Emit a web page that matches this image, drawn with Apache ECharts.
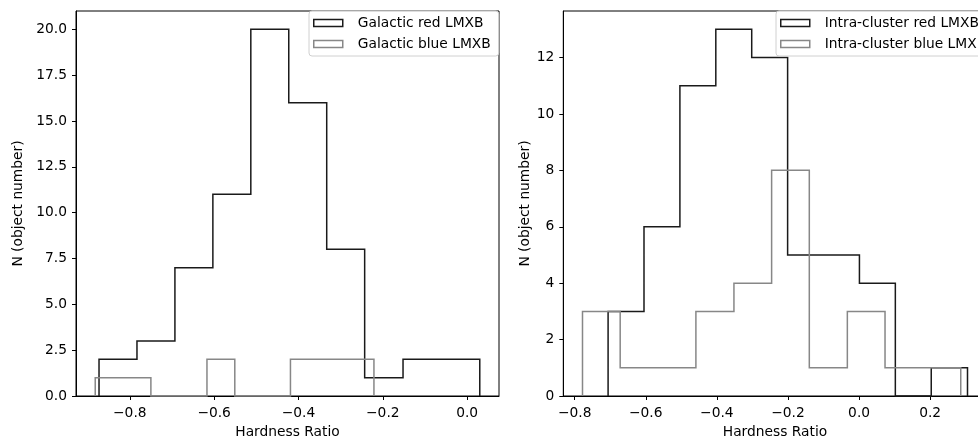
<!DOCTYPE html>
<html>
<head>
<meta charset="utf-8">
<script src="https://cdn.jsdelivr.net/npm/echarts@6/dist/echarts.min.js"></script>
<style>
  html, body { margin: 0; padding: 0; overflow: hidden; background: #fff; }
  #main { width: 978px; height: 438px; }
</style>
</head>
<body>
<div id="main"></div>
<script>
// bin edges and counts
const galRedEdges = [-0.873, -0.783, -0.693, -0.603, -0.513, -0.423, -0.333, -0.243, -0.152, -0.061, 0.030];
const galRedCounts = [2, 3, 7, 11, 20, 16, 8, 1, 2, 2];
const galBlueEdges = [-0.882, -0.816, -0.750, -0.684, -0.617, -0.551, -0.485, -0.419, -0.353, -0.287, -0.221];
const galBlueCounts = [1, 1, 0, 0, 2, 0, 0, 2, 2, 2];

const icRedEdges = [-0.706, -0.605, -0.504, -0.403, -0.302, -0.201, -0.100, 0.001, 0.102, 0.203, 0.305];
const icRedCounts = [3, 6, 11, 13, 12, 5, 5, 4, 0, 1];
const icBlueEdges = [-0.778, -0.672, -0.565, -0.459, -0.352, -0.246, -0.140, -0.033, 0.073, 0.180, 0.286];
const icBlueCounts = [3, 1, 1, 3, 4, 8, 1, 3, 1, 1];

// tick labels
const leftXTicks = [-0.8, -0.6, -0.4, -0.2, 0.0];
const leftYTicks = [0, 2.5, 5, 7.5, 10, 12.5, 15, 17.5, 20];
const rightXTicks = [-0.8, -0.6, -0.4, -0.2, 0.0, 0.2];
const rightYTicks = [0, 2, 4, 6, 8, 10, 12];

const FONT = 'DejaVu Sans';
const FS = 13.8;
const RED = '#1a1a1a';
const BLUE = '#878787';

// outline of a step histogram
function stepPoints(edges, counts) {
  const pts = [[edges[0], 0]];
  for (let i = 0; i < counts.length; i++) {
    pts.push([edges[i], counts[i]]);
    pts.push([edges[i + 1], counts[i]]);
  }
  pts.push([edges[edges.length - 1], 0]);
  return pts;
}

function fmtX(v) {
  return (v < 0 ? '\u2212' : '') + Math.abs(v).toFixed(1);
}

function xAxisOf(idx, min, max, ticks) {
  return {
    type: 'value', gridIndex: idx, min: min, max: max,
    name: 'Hardness Ratio', nameLocation: 'middle', nameGap: 29,
    nameTextStyle: { fontFamily: FONT, fontSize: FS, color: '#000' },
    axisLine: { show: true, onZero: false, lineStyle: { color: '#000', width: 1 } },
    axisTick: { show: true, length: 4, customValues: ticks, lineStyle: { color: '#000' } },
    axisLabel: { customValues: ticks, formatter: fmtX, margin: 10, fontFamily: FONT, fontSize: FS, color: '#000' },
    splitLine: { show: false }
  };
}

function yAxisOf(idx, max, ticks, dec, gap) {
  return {
    type: 'value', gridIndex: idx, min: 0, max: max,
    name: 'N (object number)', nameLocation: 'middle', nameGap: gap,
    nameTextStyle: { fontFamily: FONT, fontSize: FS, color: '#000' },
    axisLine: { show: true, onZero: false, lineStyle: { color: '#000', width: 1 } },
    axisTick: { show: true, length: 4, customValues: ticks, lineStyle: { color: '#000' } },
    axisLabel: { customValues: ticks, formatter: v => v.toFixed(dec), margin: 9, fontFamily: FONT, fontSize: FS, color: '#000' },
    splitLine: { show: false }
  };
}

function legendOf(left, names) {
  return {
    left: left, top: 11, orient: 'vertical',
    padding: [5, 8, 5, 4], itemGap: 7, itemWidth: 29, itemHeight: 7,
    backgroundColor: 'rgba(255,255,255,0.85)', borderColor: '#d0d0d0', borderWidth: 1, borderRadius: 3,
    selectedMode: false,
    textStyle: { fontFamily: FONT, fontSize: FS, color: '#000', padding: [0, 0, 0, 10] },
    data: [
      { name: names[0], icon: 'rect', itemStyle: { color: '#fff', borderColor: RED, borderWidth: 1.5 } },
      { name: names[1], icon: 'rect', itemStyle: { color: '#fff', borderColor: BLUE, borderWidth: 1.5 } }
    ]
  };
}

function histSeries(name, idx, edges, counts, color) {
  return {
    name: name, type: 'line', xAxisIndex: idx, yAxisIndex: idx,
    data: stepPoints(edges, counts), symbol: 'none', silent: true, clip: false,
    lineStyle: { color: color, width: 1.5, join: 'miter' }, itemStyle: { color: color }
  };
}

const chart = echarts.init(document.getElementById('main'), null, { renderer: 'canvas' });

// the right panel runs past the page edge, as in the picture
chart.setOption({
  animation: false,
  backgroundColor: '#fff',
  grid: [
    { left: 76, top: 11, width: 423, height: 385, outerBoundsMode: 'none', show: true, borderColor: '#000', borderWidth: 1, backgroundColor: 'transparent' },
    { left: 563.3, top: 11, width: 423.4, height: 385, outerBoundsMode: 'none', show: true, borderColor: '#000', borderWidth: 1, backgroundColor: 'transparent' }
  ],
  xAxis: [
    xAxisOf(0, -0.9276, 0.0756, leftXTicks),
    xAxisOf(1, -0.832, 0.359, rightXTicks)
  ],
  yAxis: [
    yAxisOf(0, 21, leftYTicks, 1, 51),
    yAxisOf(1, 13.65, rightYTicks, 0, 28)
  ],
  legend: [
    legendOf(309, ['Galactic red LMXB', 'Galactic blue LMXB']),
    legendOf(776, ['Intra-cluster red LMXB', 'Intra-cluster blue LMXB'])
  ],
  series: [
    histSeries('Galactic red LMXB', 0, galRedEdges, galRedCounts, RED),
    histSeries('Galactic blue LMXB', 0, galBlueEdges, galBlueCounts, BLUE),
    histSeries('Intra-cluster red LMXB', 1, icRedEdges, icRedCounts, RED),
    histSeries('Intra-cluster blue LMXB', 1, icBlueEdges, icBlueCounts, BLUE)
  ]
});
</script>
</body>
</html>
